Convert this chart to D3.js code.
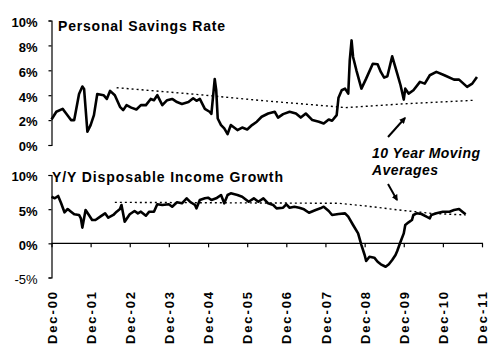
<!DOCTYPE html>
<html><head><meta charset="utf-8">
<script src="https://cdn.jsdelivr.net/npm/d3@7"></script>
<style>body{margin:0;background:#fff}svg{display:block}text{font-family:"Liberation Sans",Arial,sans-serif;fill:#000}</style>
</head><body>
<svg id="c" width="500" height="352"></svg>
<script>
// ---------- data ----------
const xTickLabels = ["Dec-00","Dec-01","Dec-02","Dec-03","Dec-04","Dec-05","Dec-06","Dec-07","Dec-08","Dec-09","Dec-10","Dec-11"];
const savingsTicks = [0,2,4,6,8,10];
const incomeTicks = [-5,0,5,10];

const savingsDates = ["2000-12-01","2001-01-15","2001-03-15","2001-04-15","2001-06-01","2001-07-01","2001-08-15","2001-09-15","2001-10-01","2001-11-01","2001-12-01","2002-01-01","2002-02-01","2002-04-01","2002-05-01","2002-06-01","2002-07-15","2002-09-01","2002-10-01","2002-11-01","2002-12-15","2003-02-01","2003-03-15","2003-05-01","2003-06-15","2003-07-15","2003-08-15","2003-10-01","2003-11-15","2004-01-01","2004-02-15","2004-04-01","2004-06-01","2004-07-15","2004-08-15","2004-09-15","2004-11-01","2004-12-15","2005-01-01","2005-02-01","2005-02-15","2005-03-01","2005-04-01","2005-05-01","2005-06-01","2005-07-01","2005-09-01","2005-10-15","2005-12-01","2006-01-15","2006-03-01","2006-04-15","2006-06-15","2006-08-15","2006-09-15","2006-11-01","2007-01-01","2007-03-01","2007-04-15","2007-06-01","2007-08-01","2007-10-01","2007-11-15","2008-01-01","2008-02-01","2008-03-15","2008-04-01","2008-05-01","2008-06-01","2008-07-01","2008-07-15","2008-08-01","2008-08-15","2008-09-15","2008-11-01","2008-12-15","2009-02-15","2009-04-01","2009-05-01","2009-06-01","2009-07-01","2009-08-15","2009-10-01","2009-11-01","2009-12-01","2009-12-15","2010-01-15","2010-03-01","2010-05-01","2010-06-15","2010-08-01","2010-10-01","2010-12-15","2011-03-15","2011-05-01","2011-07-15","2011-09-01","2011-10-15"];
const savingsValues = [2.05,2.67,2.9,2.55,2.0,2.0,4.1,4.7,4.5,1.07,1.6,2.4,4.1,4.0,3.7,4.35,4.0,3.07,2.8,3.2,3.0,2.85,3.2,3.2,3.7,3.6,4.0,3.2,3.6,3.7,3.45,3.3,3.45,3.75,3.55,3.7,2.9,2.67,2.5,5.3,4.4,2.13,1.6,1.33,0.88,1.6,1.2,1.4,1.25,1.6,1.87,2.27,2.53,2.67,2.2,2.48,2.67,2.53,2.2,2.53,2.0,1.87,1.73,2.05,1.95,2.4,3.8,4.4,4.53,4.13,6.8,8.4,7.07,6.0,4.53,5.33,6.53,6.48,5.87,5.41,5.52,7.12,5.73,4.8,3.65,4.53,4.13,4.4,5.07,4.93,5.6,5.87,5.6,5.25,5.25,4.67,4.93,5.47];

const savingsAvgDates = ["2002-08-01","2004-07-01","2006-04-01","2008-03-15","2008-06-01","2010-01-15","2011-10-01"];
const savingsAvgValues = [4.6,4.1,3.58,3.07,3.0,3.33,3.6];

const incomeDates = ["2000-12-01","2001-01-01","2001-02-01","2001-03-01","2001-04-01","2001-05-01","2001-06-01","2001-07-01","2001-08-15","2001-09-01","2001-09-15","2001-10-15","2001-11-15","2001-12-15","2002-01-15","2002-03-01","2002-04-15","2002-05-15","2002-07-01","2002-08-01","2002-09-01","2002-09-15","2002-10-15","2002-12-01","2003-01-15","2003-02-15","2003-03-15","2003-05-01","2003-06-01","2003-07-15","2003-08-15","2003-10-01","2003-12-01","2004-01-01","2004-02-15","2004-04-01","2004-05-15","2004-06-15","2004-08-01","2004-08-15","2004-09-15","2004-11-01","2004-12-01","2005-01-01","2005-02-15","2005-04-01","2005-05-01","2005-06-01","2005-07-01","2005-09-01","2005-10-15","2005-12-15","2006-02-01","2006-03-15","2006-05-01","2006-06-15","2006-08-01","2006-09-01","2006-11-01","2006-12-01","2007-01-01","2007-02-15","2007-04-01","2007-05-15","2007-07-01","2007-09-01","2007-10-15","2007-11-15","2008-01-01","2008-02-01","2008-04-01","2008-06-01","2008-07-01","2008-08-15","2008-10-01","2008-11-01","2008-12-01","2008-12-15","2009-01-15","2009-03-01","2009-04-01","2009-05-01","2009-06-15","2009-07-15","2009-08-15","2009-09-15","2009-10-01","2009-11-01","2009-12-01","2009-12-15","2010-01-15","2010-02-15","2010-03-01","2010-04-01","2010-05-15","2010-07-01","2010-08-01","2010-08-15","2010-10-01","2010-12-01","2011-02-01","2011-03-15","2011-05-01","2011-06-01","2011-07-01"];
const incomeValues = [6.82,6.59,6.93,5.86,4.54,5.02,4.63,4.25,4.15,3.66,2.3,4.88,4.15,3.41,3.41,3.9,4.39,3.75,4.15,4.63,5.02,5.61,3.16,4.25,4.73,4.39,4.63,4.04,4.63,4.63,5.71,5.61,5.71,5.36,6.0,5.86,6.59,6.09,5.61,5.12,6.34,6.59,6.68,6.34,6.59,7.07,5.86,7.07,7.32,7.07,6.82,6.09,6.59,6.09,6.59,5.86,5.61,5.12,5.21,5.71,5.21,5.36,5.21,4.98,4.48,4.88,5.12,5.36,4.73,4.15,4.3,4.39,3.9,2.68,1.46,-0.25,-1.71,-2.59,-1.96,-2.1,-2.69,-3.07,-3.43,-3.07,-2.44,-1.71,-1.13,0.24,1.46,2.68,3.07,3.41,4.15,4.39,4.29,3.9,3.66,4.15,4.39,4.63,4.63,4.88,5.02,4.63,4.25];

const incomeAvgDates = ["2002-07-15","2008-04-01","2008-12-15","2009-10-15","2010-08-15","2011-07-01"];
const incomeAvgValues = [6.0,5.86,5.46,4.88,4.39,4.15];

const xTickDates = ["2000-12-01","2001-12-01","2002-12-01","2003-12-01","2004-12-01","2005-12-01","2006-12-01","2007-12-01","2008-12-01","2009-12-01","2010-12-01","2011-12-01"];

// ---------- drawing ----------
const parse = d3.timeParse("%Y-%m-%d");
const svg = d3.select("#c");

const x = d3.scaleTime().domain([parse("2000-12-01"), parse("2011-12-01")]).range([51.5, 482]);
const yTop = d3.scaleLinear().domain([0,10]).range([145, 20.5]);
const yBot = d3.scaleLinear().domain([-5,10]).range([277.5, 175]);

const zip = (ds, vs) => ds.map((d,i) => ({date: parse(d), v: vs[i]}));

function drawLine(data, y, dotted) {
  const line = d3.line().x(d => x(d.date)).y(d => y(d.v));
  const p = svg.append("path").datum(data).attr("d", line).attr("fill","none").attr("stroke","#000");
  if (dotted) p.attr("stroke-width",1.4).attr("stroke-dasharray","2,3");
  else p.attr("stroke-width",2.6).attr("stroke-linejoin","round");
}

// Top y axis
const axTop = svg.append("g").attr("transform","translate(51.5,0)")
  .call(d3.axisLeft(yTop).tickValues(savingsTicks).tickSize(3).tickPadding(11).tickFormat(d => d + "%"));
axTop.select(".domain").attr("stroke","#000").attr("stroke-width",1.2);
axTop.selectAll("line").attr("stroke","#000").attr("stroke-width",1.2);
axTop.selectAll("text").style("font-size","13px").style("font-weight","bold").attr("dy","0.45em");

// Bottom y axis
const axBot = svg.append("g").attr("transform","translate(51.5,0)")
  .call(d3.axisLeft(yBot).tickValues(incomeTicks).tickSize(3).tickPadding(11).tickFormat(d => d + "%"));
axBot.select(".domain").attr("stroke","#000").attr("stroke-width",1.2);
axBot.selectAll("line").attr("stroke","#000").attr("stroke-width",1.2);
axBot.selectAll("text").style("font-size","13px").style("font-weight", d => d < 0 ? "normal" : "bold").attr("dy","0.45em");

// Bottom x axis at 0%
const xTicks = xTickDates.map(parse);
const axX = svg.append("g").attr("transform",`translate(0,${yBot(0)})`)
  .call(d3.axisBottom(x).tickValues(xTicks).tickSize(4).tickFormat(""));
axX.select(".domain").attr("stroke","#000").attr("stroke-width",1.2).attr("d", `M51.5,0H483`);
axX.selectAll("line").attr("stroke","#000").attr("stroke-width",1.2);

// X labels (rotated)
svg.append("g").selectAll("text").data(xTicks).join("text")
  .attr("transform", d => `translate(${x(d)+0.5},292) rotate(-90)`)
  .attr("text-anchor","end").attr("dy","0.36em")
  .attr("textLength",52).attr("lengthAdjust","spacing")
  .style("font-size","13px").style("font-weight","bold")
  .text((d,i) => xTickLabels[i]);

// Lines
drawLine(zip(savingsAvgDates, savingsAvgValues), yTop, true);
drawLine(zip(incomeAvgDates, incomeAvgValues), yBot, true);
drawLine(zip(savingsDates, savingsValues), yTop, false);
drawLine(zip(incomeDates, incomeValues), yBot, false);

// Titles
svg.append("text").attr("x",58).attr("y",31).attr("textLength",167).attr("lengthAdjust","spacing")
  .style("font-size","14px").style("font-weight","bold").text("Personal Savings Rate");
svg.append("text").attr("x",52).attr("y",181.5).attr("textLength",231).attr("lengthAdjust","spacing")
  .style("font-size","14px").style("font-weight","bold").text("Y/Y Disposable Income Growth");

// Annotation
svg.append("text").attr("x",372).attr("y",157.5).attr("textLength",108).attr("lengthAdjust","spacing")
  .style("font-size","14px").style("font-weight","bold").style("font-style","italic").text("10 Year Moving");
svg.append("text").attr("x",372).attr("y",175).attr("textLength",66).attr("lengthAdjust","spacing")
  .style("font-size","14px").style("font-weight","bold").style("font-style","italic").text("Averages");

const defs = svg.append("defs");
defs.append("marker").attr("id","ah").attr("viewBox","0 0 10 10").attr("refX",8).attr("refY",5)
  .attr("markerWidth",3.2).attr("markerHeight",3.2).attr("orient","auto")
  .append("path").attr("d","M0,0L10,5L0,10z").attr("fill","#000");
svg.append("line").attr("x1",388).attr("y1",137).attr("x2",405).attr("y2",118)
  .attr("stroke","#000").attr("stroke-width",2).attr("marker-end","url(#ah)");
svg.append("line").attr("x1",388).attr("y1",184).attr("x2",397).attr("y2",200)
  .attr("stroke","#000").attr("stroke-width",2).attr("marker-end","url(#ah)");
</script>
</body></html>
